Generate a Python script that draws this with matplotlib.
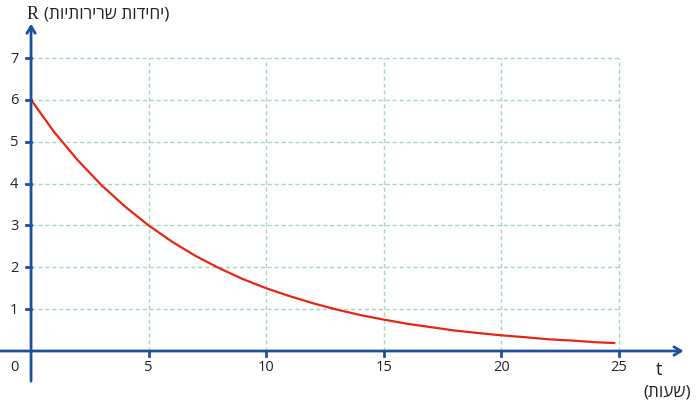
import matplotlib
matplotlib.use("Agg")
import matplotlib.pyplot as plt

plt.rcParams['font.family'] = ['Open Sans', 'DejaVu Sans']

# data
t_vals = [0, 1, 2, 3, 4, 5, 6, 7, 8, 9, 10, 11, 12, 13, 14, 15, 16, 17, 18, 19, 20, 21, 22, 23, 24, 24.8]
r_vals = [6.0, 5.22, 4.55, 3.96, 3.45, 3.0, 2.61, 2.27, 1.98, 1.72, 1.5, 1.31, 1.14, 0.99, 0.86,
          0.75, 0.65, 0.57, 0.49, 0.43, 0.375, 0.33, 0.28, 0.25, 0.21, 0.19]
x_ticks = [5, 10, 15, 20, 25]
y_ticks = [1, 2, 3, 4, 5, 6, 7]
y_label_he = "יחידות שרירותיות"
x_label_he = "שעות"


def rtl(s):
    # matplotlib has no bidi support: lay the Hebrew out in visual order
    return "(" + s[::-1] + ")"


axis_col = '#1f4f9a'
grid_col = '#a8d8bc'
curve_col = '#e62614'

fig = plt.figure(figsize=(6.97, 4.06), dpi=100)
ax = fig.add_axes([0, 0, 1, 1])
ax.set_xlim(-1.32, 28.32)
ax.set_ylim(-1.29, 8.41)
ax.axis('off')

# grid
for xv in x_ticks:
    ax.plot([xv, xv], [0, max(y_ticks)], color=grid_col, lw=1, ls=(0, (3, 2)), zorder=1)
for yv in y_ticks:
    ax.plot([0, max(x_ticks)], [yv, yv], color=grid_col, lw=1, ls=(0, (3, 2)), zorder=1)

# curve
ax.plot(t_vals, r_vals, color=curve_col, lw=1.6, zorder=3)

# axes with arrows
ax.annotate('', xy=(27.75, 0), xytext=(-1.32, 0),
            arrowprops=dict(arrowstyle='->,head_length=0.5,head_width=0.3', color=axis_col, lw=2,
                            shrinkA=0, shrinkB=0), zorder=4)
ax.annotate('', xy=(0, 7.82), xytext=(0, -0.72),
            arrowprops=dict(arrowstyle='->,head_length=0.5,head_width=0.3', color=axis_col, lw=2,
                            shrinkA=0, shrinkB=0), zorder=4)

# ticks
for xv in x_ticks:
    ax.plot([xv, xv], [0, -0.12], color=axis_col, lw=2, zorder=4)
    ax.text(xv, -0.36, str(xv), ha='center', va='center', fontsize=10.5, color='#222222')
for yv in y_ticks:
    ax.plot([0, -0.21], [yv, yv], color=axis_col, lw=2, zorder=4)
    ax.text(-0.72, yv, str(yv), ha='center', va='center', fontsize=10.5, color='#222222')
ax.text(-0.72, -0.36, '0', ha='center', va='center', fontsize=10.5, color='#222222')

# labels
ax.text(-0.2, 8.07, 'R', ha='left', va='center', fontsize=13, family='Liberation Serif', color='#222222')
ax.text(0.55, 8.07, rtl(y_label_he), ha='left', va='center', fontsize=12.3, color='#222222')
ax.text(26.7, -0.43, 't', ha='center', va='center', fontsize=13, color='#222222')
ax.text(27.05, -0.97, rtl(x_label_he), ha='center', va='center', fontsize=12.3, color='#222222')

fig.savefig('out.png', dpi=100)
